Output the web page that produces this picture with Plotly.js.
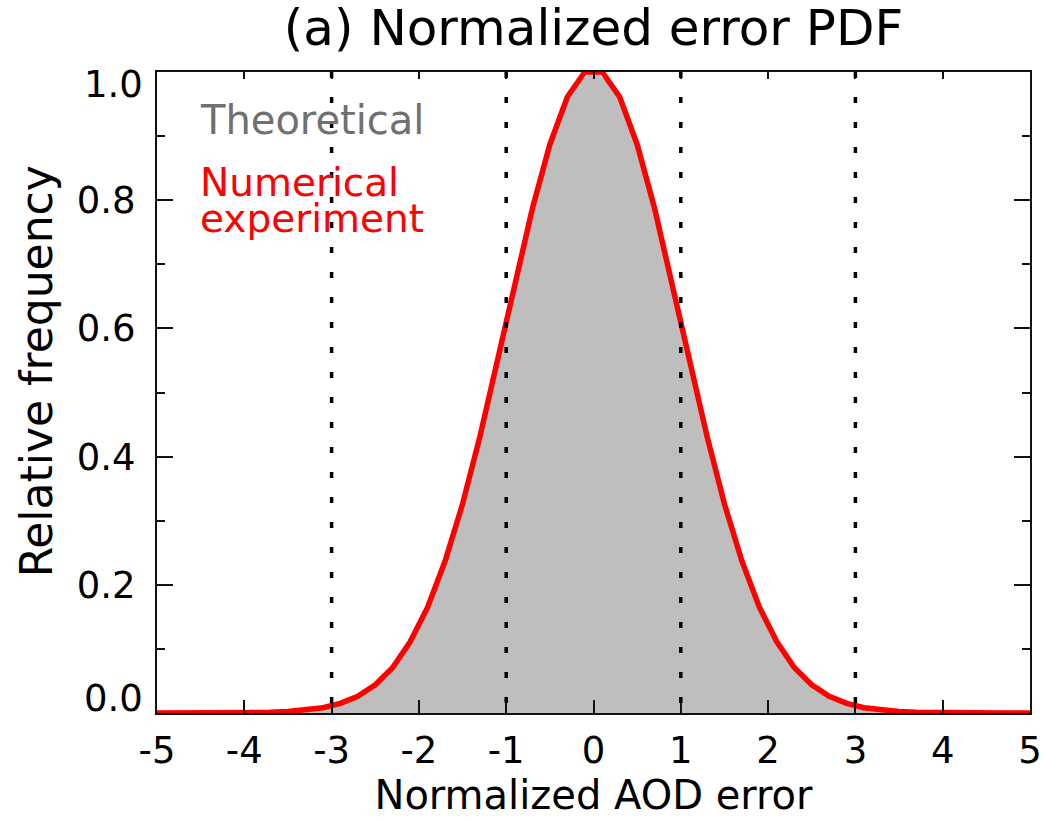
<!DOCTYPE html>
<html>
<head>
<meta charset="utf-8">
<script src="https://cdn.plot.ly/plotly-3.0.1.min.js"></script>
<style>
  html, body { margin: 0; padding: 0; background: #ffffff; }
  #chart { width: 1046px; height: 822px; }
</style>
</head>
<body>
<div id="chart"></div>
<script>
// Theoretical PDF (normalized to peak 1), sampled every 0.2
const theoX = [-5.0,-4.8,-4.6,-4.4,-4.2,-4.0,-3.8,-3.6,-3.4,-3.2,-3.0,-2.8,-2.6,-2.4,-2.2,-2.0,-1.8,-1.6,-1.4,-1.2,-1.0,-0.8,-0.6,-0.4,-0.2,
               0.0,0.2,0.4,0.6,0.8,1.0,1.2,1.4,1.6,1.8,2.0,2.2,2.4,2.6,2.8,3.0,3.2,3.4,3.6,3.8,4.0,4.2,4.4,4.6,4.8,5.0];
const theoY = [0,0,0,0.0001,0.0001,0.0003,0.0007,0.0015,0.0031,0.0060,0.0111,0.0198,0.0340,0.0561,0.0889,0.1353,0.1979,0.2780,0.3753,0.4868,0.6065,0.7261,0.8353,0.9231,0.9802,
               1.0,0.9802,0.9231,0.8353,0.7261,0.6065,0.4868,0.3753,0.2780,0.1979,0.1353,0.0889,0.0561,0.0340,0.0198,0.0111,0.0060,0.0031,0.0015,0.0007,0.0003,0.0001,0.0001,0,0,0];

// Numerical experiment histogram (bin centres every 0.2, plus the range ends)
const expX = [-5.0,-4.9,-4.7,-4.5,-4.3,-4.1,-3.9,-3.7,-3.5,-3.3,-3.1,-2.9,-2.7,-2.5,-2.3,-2.1,-1.9,-1.7,-1.5,-1.3,-1.1,-0.9,-0.7,-0.5,-0.3,-0.1,
              0.1,0.3,0.5,0.7,0.9,1.1,1.3,1.5,1.7,1.9,2.1,2.3,2.5,2.7,2.9,3.1,3.3,3.5,3.7,3.9,4.1,4.3,4.5,4.7,4.9,5.0];
const expY = [0,0,0,0,0.0001,0.0002,0.0005,0.0011,0.0022,0.0043,0.0082,0.015,0.026,0.044,0.071,0.111,0.165,0.237,0.326,0.432,0.549,0.670,0.787,0.887,0.961,1.0,
              1.0,0.961,0.887,0.787,0.670,0.549,0.432,0.326,0.237,0.165,0.111,0.071,0.044,0.026,0.015,0.0082,0.0043,0.0022,0.0011,0.0005,0.0002,0.0001,0,0,0,0];

// Reference lines at ±1σ and ±3σ
const sigmaLines = [-3, -1, 1, 3];

const xTickVals = [-5,-4,-3,-2,-1,0,1,2,3,4,5];
const xTickText = ['-5','-4','-3','-2','-1','0','1','2','3','4','5'];
const yTickVals = [0, 0.2, 0.4, 0.6, 0.8, 1.0];
const yTickText = ['0.0','0.2','0.4','0.6','0.8','1.0'];

const seriesNames = ['Theoretical', 'Numerical', 'experiment'];

const FONT = '"DejaVu Sans", "Liberation Sans", Arial, sans-serif';
const TICK_SIZE = 37;

const traces = [
  {
    x: theoX, y: theoY, type: 'scatter', mode: 'lines',
    fill: 'tozeroy', fillcolor: '#bebebe',
    line: { color: '#bebebe', width: 1 },
    hoverinfo: 'skip', showlegend: false
  },
  {
    x: expX, y: expY, type: 'scatter', mode: 'lines',
    line: { color: '#ff0000', width: 5.5 },
    hoverinfo: 'skip', showlegend: false
  },
  // empty trace that carries the top tick marks
  { x: [], y: [], xaxis: 'x2', yaxis: 'y', type: 'scatter', mode: 'lines', hoverinfo: 'skip', showlegend: false }
];

const shapes = sigmaLines.map(v => ({
  type: 'line', xref: 'x', yref: 'y', layer: 'above',
  x0: v, x1: v, y0: 1.0, y1: 0,
  line: { color: '#000000', width: 3.5, dash: '6px,19px' }
}));

const annotations = [
  // end labels of the y axis sit inside the axis span
  { xref: 'paper', yref: 'y', x: 0, y: yTickVals[0], text: yTickText[0], showarrow: false,
    xanchor: 'right', yanchor: 'middle', xshift: -12, yshift: 15,
    font: { family: FONT, size: TICK_SIZE, color: '#000' } },
  { xref: 'paper', yref: 'y', x: 0, y: yTickVals[5], text: yTickText[5], showarrow: false,
    xanchor: 'right', yanchor: 'middle', xshift: -12, yshift: -12,
    font: { family: FONT, size: TICK_SIZE, color: '#000' } },
  // y-axis title
  { xref: 'paper', yref: 'paper', x: 0, y: 0.533, xshift: -121, text: 'Relative frequency',
    textangle: -90, showarrow: false, xanchor: 'center', yanchor: 'middle',
    font: { family: FONT, size: 44, color: '#000' } },
  // in-plot legend
  { xref: 'x', yref: 'y', x: -4.53, y: 0.925, text: seriesNames[0], showarrow: false,
    xanchor: 'left', yanchor: 'middle',
    font: { family: FONT, size: 40, color: '#707070' } },
  { xref: 'x', yref: 'y', x: -4.53, y: 0.827, text: seriesNames[1], showarrow: false,
    xanchor: 'left', yanchor: 'middle',
    font: { family: FONT, size: 39, color: '#ff0000' } },
  { xref: 'x', yref: 'y', x: -4.53, y: 0.772, text: seriesNames[2], showarrow: false,
    xanchor: 'left', yanchor: 'middle',
    font: { family: FONT, size: 39, color: '#ff0000' } }
];

const layout = {
  width: 1046, height: 822,
  margin: { l: 157, r: 16, t: 72, b: 109, pad: 0 },
  paper_bgcolor: '#ffffff', plot_bgcolor: '#ffffff',
  font: { family: FONT, color: '#000000' },
  title: {
    text: '(a) Normalized error PDF',
    font: { family: FONT, size: 50, color: '#000' },
    x: 0.5, xref: 'paper', xanchor: 'center',
    y: 0.966, yref: 'container', yanchor: 'middle'
  },
  xaxis: {
    range: [-5, 5], fixedrange: true,
    tickmode: 'array', tickvals: xTickVals, ticktext: xTickText,
    ticks: 'inside', ticklen: 13, tickwidth: 2, tickcolor: '#111',
    showline: true, linecolor: '#111', linewidth: 2, mirror: true,
    showgrid: false, zeroline: false,
    tickfont: { family: FONT, size: TICK_SIZE, color: '#000' },
    ticklabelstandoff: 4,
    title: { text: 'Normalized AOD error', font: { family: FONT, size: 40, color: '#000' }, standoff: 4 }
  },
  xaxis2: {
    overlaying: 'x', matches: 'x', side: 'top', range: [-5, 5],
    tickmode: 'array', tickvals: xTickVals, showticklabels: false,
    ticks: 'inside', ticklen: 7, tickwidth: 2, tickcolor: '#111',
    showline: false, showgrid: false, zeroline: false
  },
  yaxis: {
    range: [0, 1.0], fixedrange: true,
    tickmode: 'array', tickvals: yTickVals,
    ticktext: ['', yTickText[1], yTickText[2], yTickText[3], yTickText[4], ''],
    ticks: 'inside', ticklen: 16, tickwidth: 2, tickcolor: '#111',
    minor: { dtick: 0.1, ticks: 'inside', ticklen: 8, tickwidth: 2, tickcolor: '#111', showgrid: false },
    showline: true, linecolor: '#111', linewidth: 2, mirror: 'ticks',
    showgrid: false, zeroline: false,
    tickfont: { family: FONT, size: TICK_SIZE, color: '#000' },
    ticklabelstandoff: 12
  },
  shapes: shapes,
  annotations: annotations,
  showlegend: false
};

Plotly.newPlot('chart', traces, layout, { staticPlot: true, displayModeBar: false });
</script>
</body>
</html>
